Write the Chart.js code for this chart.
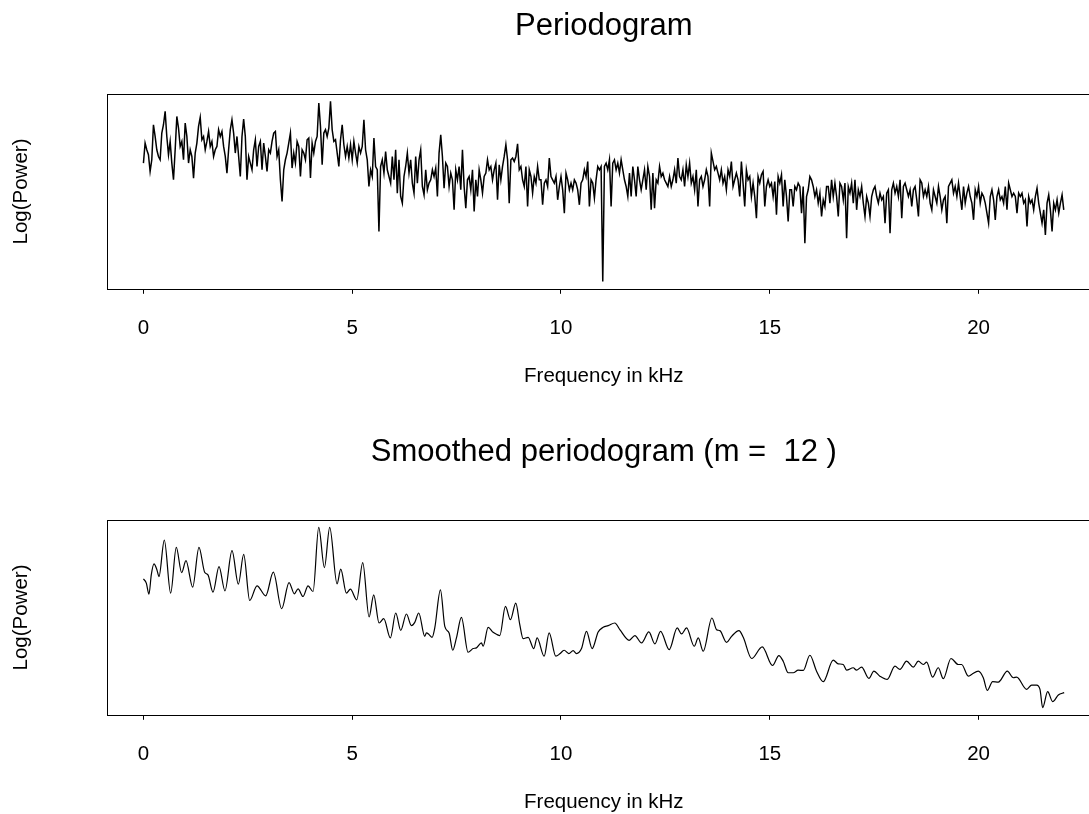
<!DOCTYPE html>
<html>
<head>
<meta charset="utf-8">
<title>Periodogram</title>
<script src="https://cdn.jsdelivr.net/npm/chart.js@4.4.1/dist/chart.umd.min.js"></script>
<style>
  html, body { margin: 0; padding: 0; background: #fff; overflow: hidden; }
  #page { position: relative; width: 1089px; height: 814px; overflow: hidden; }
  .panel { position: absolute; left: 0; width: 1208px; height: 426px; }
</style>
</head>
<body>
<div id="page">
  <div class="panel" style="top:0"><canvas id="raw_chart"></canvas></div>
  <div class="panel" style="top:426px"><canvas id="smooth_chart"></canvas></div>
</div>
<script>
// x axis: frequency in kHz (Nyquist of a 44.1 kHz recording)
const nyquistKHz = 22.05;
const xTickValues = [0, 5, 10, 15, 20];

// raw periodogram, one value every 0.04 kHz
const rawFreqKHz = [
  0.00,0.04,0.08,0.12,0.16,0.20,0.24,0.28,0.32,0.36,0.40,0.44,0.48,0.52,0.56,0.60,0.64,0.68,0.72,0.76,0.80,0.84,0.88,0.92,0.96,
  1.00,1.04,1.08,1.12,1.16,1.20,1.24,1.28,1.32,1.36,1.40,1.44,1.48,1.52,1.56,1.60,1.64,1.68,1.72,1.76,1.80,1.84,1.88,1.92,1.96,
  2.00,2.04,2.08,2.12,2.16,2.20,2.24,2.28,2.32,2.36,2.40,2.44,2.48,2.52,2.56,2.60,2.64,2.68,2.72,2.76,2.80,2.84,2.88,2.92,2.96,
  3.00,3.04,3.08,3.12,3.16,3.20,3.24,3.28,3.32,3.36,3.40,3.44,3.48,3.52,3.56,3.60,3.64,3.68,3.72,3.76,3.80,3.84,3.88,3.92,3.96,
  4.00,4.04,4.08,4.12,4.16,4.20,4.24,4.28,4.32,4.36,4.40,4.44,4.48,4.52,4.56,4.60,4.64,4.68,4.72,4.76,4.80,4.84,4.88,4.92,4.96,
  5.00,5.04,5.08,5.12,5.16,5.20,5.24,5.28,5.32,5.36,5.40,5.44,5.48,5.52,5.56,5.60,5.64,5.68,5.72,5.76,5.80,5.84,5.88,5.92,5.96,
  6.00,6.04,6.08,6.12,6.16,6.20,6.24,6.28,6.32,6.36,6.40,6.44,6.48,6.52,6.56,6.60,6.64,6.68,6.72,6.76,6.80,6.84,6.88,6.92,6.96,
  7.00,7.04,7.08,7.12,7.16,7.20,7.24,7.28,7.32,7.36,7.40,7.44,7.48,7.52,7.56,7.60,7.64,7.68,7.72,7.76,7.80,7.84,7.88,7.92,7.96,
  8.00,8.04,8.08,8.12,8.16,8.20,8.24,8.28,8.32,8.36,8.40,8.44,8.48,8.52,8.56,8.60,8.64,8.68,8.72,8.76,8.80,8.84,8.88,8.92,8.96,
  9.00,9.04,9.08,9.12,9.16,9.20,9.24,9.28,9.32,9.36,9.40,9.44,9.48,9.52,9.56,9.60,9.64,9.68,9.72,9.76,9.80,9.84,9.88,9.92,9.96,
  10.00,10.04,10.08,10.12,10.16,10.20,10.24,10.28,10.32,10.36,10.40,10.44,10.48,10.52,10.56,10.60,10.64,10.68,10.72,10.76,10.80,10.84,10.88,10.92,10.96,
  11.00,11.04,11.08,11.12,11.16,11.20,11.24,11.28,11.32,11.36,11.40,11.44,11.48,11.52,11.56,11.60,11.64,11.68,11.72,11.76,11.80,11.84,11.88,11.92,11.96,
  12.00,12.04,12.08,12.12,12.16,12.20,12.24,12.28,12.32,12.36,12.40,12.44,12.48,12.52,12.56,12.60,12.64,12.68,12.72,12.76,12.80,12.84,12.88,12.92,12.96,
  13.00,13.04,13.08,13.12,13.16,13.20,13.24,13.28,13.32,13.36,13.40,13.44,13.48,13.52,13.56,13.60,13.64,13.68,13.72,13.76,13.80,13.84,13.88,13.92,13.96,
  14.00,14.04,14.08,14.12,14.16,14.20,14.24,14.28,14.32,14.36,14.40,14.44,14.48,14.52,14.56,14.60,14.64,14.68,14.72,14.76,14.80,14.84,14.88,14.92,14.96,
  15.00,15.04,15.08,15.12,15.16,15.20,15.24,15.28,15.32,15.36,15.40,15.44,15.48,15.52,15.56,15.60,15.64,15.68,15.72,15.76,15.80,15.84,15.88,15.92,15.96,
  16.00,16.04,16.08,16.12,16.16,16.20,16.24,16.28,16.32,16.36,16.40,16.44,16.48,16.52,16.56,16.60,16.64,16.68,16.72,16.76,16.80,16.84,16.88,16.92,16.96,
  17.00,17.04,17.08,17.12,17.16,17.20,17.24,17.28,17.32,17.36,17.40,17.44,17.48,17.52,17.56,17.60,17.64,17.68,17.72,17.76,17.80,17.84,17.88,17.92,17.96,
  18.00,18.04,18.08,18.12,18.16,18.20,18.24,18.28,18.32,18.36,18.40,18.44,18.48,18.52,18.56,18.60,18.64,18.68,18.72,18.76,18.80,18.84,18.88,18.92,18.96,
  19.00,19.04,19.08,19.12,19.16,19.20,19.24,19.28,19.32,19.36,19.40,19.44,19.48,19.52,19.56,19.60,19.64,19.68,19.72,19.76,19.80,19.84,19.88,19.92,19.96,
  20.00,20.04,20.08,20.12,20.16,20.20,20.24,20.28,20.32,20.36,20.40,20.44,20.48,20.52,20.56,20.60,20.64,20.68,20.72,20.76,20.80,20.84,20.88,20.92,20.96,
  21.00,21.04,21.08,21.12,21.16,21.20,21.24,21.28,21.32,21.36,21.40,21.44,21.48,21.52,21.56,21.60,21.64,21.68,21.72,21.76,21.80,21.84,21.88,21.92,21.96,
  22.00,22.04
];
const rawLogPower = [
  13.67,15.67,15.0,14.5,12.83,14.0,17.5,16.33,15.0,14.33,14.0,16.67,17.5,18.83,16.33,14.5,15.83,13.67,12.0,15.0,18.33,17.17,15.33,15.83,14.0,
  17.67,16.33,13.67,15.0,14.33,12.17,14.67,15.67,17.33,18.23,16.0,16.33,15.0,15.83,16.83,15.33,15.83,14.33,15.0,15.33,17.0,16.33,16.83,15.33,14.33,
  12.67,15.0,17.0,18.0,16.67,14.67,16.33,14.33,12.33,16.33,18.07,16.33,12.0,14.33,13.67,13.0,15.0,16.0,13.33,15.33,15.83,13.0,15.67,14.33,12.83,
  15.0,14.67,15.83,16.67,16.83,14.33,15.0,12.0,9.83,13.0,14.0,14.67,15.67,16.67,13.17,14.67,13.67,15.83,15.33,12.33,15.0,14.67,14.0,16.0,16.17,
  12.17,15.67,14.67,15.83,16.33,19.67,17.33,13.5,16.67,17.0,16.33,17.17,19.83,17.0,15.83,16.0,14.67,13.33,16.0,17.5,15.5,14.33,15.33,14.17,15.5,
  14.0,15.83,14.67,13.67,15.33,14.67,15.33,18.0,15.0,14.0,11.33,13.0,12.33,16.17,13.33,13.0,6.83,13.33,14.0,12.67,14.83,13.0,12.33,11.67,14.33,
  12.0,15.0,10.67,14.0,10.33,9.67,12.33,13.33,14.67,12.67,14.0,11.67,10.67,14.33,11.67,14.0,15.0,11.33,10.5,13.0,11.0,11.67,12.0,13.0,12.33,
  13.17,10.33,14.67,16.5,14.33,11.17,13.67,13.33,11.33,12.67,12.0,9.0,13.0,12.0,13.33,11.0,15.0,11.33,9.17,12.0,12.33,11.0,13.0,8.83,12.0,
  10.33,13.0,12.0,10.67,12.33,12.67,14.0,13.0,13.33,12.0,13.0,13.67,10.0,13.5,12.0,13.33,14.33,15.5,14.0,9.67,14.0,14.17,13.83,14.33,15.6,
  13.0,13.33,12.0,11.33,13.33,9.33,13.0,12.33,10.67,12.33,11.67,13.33,12.0,12.0,9.5,11.67,12.0,11.33,14.17,12.33,12.0,11.67,12.33,10.0,11.33,
  12.33,11.0,8.67,12.67,12.0,11.0,11.67,11.0,12.0,11.67,11.0,9.5,11.67,12.0,13.0,12.33,13.83,9.33,12.0,11.67,10.17,12.0,13.33,13.0,13.33,
  1.83,13.33,13.67,13.0,14.0,9.33,13.67,14.0,13.0,13.67,12.67,14.0,13.0,12.0,11.33,10.33,12.67,10.33,13.33,12.0,10.33,13.33,12.0,11.0,12.0,
  13.0,11.0,13.33,12.33,9.0,12.67,9.17,12.0,11.67,13.33,12.33,12.67,12.0,11.67,11.33,12.33,11.33,12.0,13.0,11.67,14.17,12.33,12.0,13.0,11.33,
  13.5,12.33,13.67,11.67,12.33,11.0,13.0,9.33,12.0,12.33,11.33,12.0,13.0,12.33,9.33,14.67,13.83,13.0,13.33,12.67,12.0,13.0,11.67,12.33,11.0,
  13.0,12.33,13.83,11.33,12.0,12.67,12.0,10.33,13.83,11.67,9.33,13.0,12.0,12.33,10.33,11.67,10.33,8.17,12.33,11.67,12.5,12.83,9.33,11.33,12.0,
  11.33,11.67,10.33,11.83,8.5,12.33,11.67,12.5,9.33,12.0,10.33,7.83,11.0,11.0,9.33,11.33,11.0,11.67,11.33,8.67,11.33,5.67,10.33,11.0,12.33,
  12.0,11.33,10.33,11.0,9.67,10.67,8.33,10.0,9.33,11.33,11.33,9.67,12.0,10.33,11.67,10.33,8.33,11.67,11.33,10.0,11.67,6.17,11.33,10.67,11.67,
  9.67,12.0,9.0,11.0,10.33,11.33,9.67,8.33,10.33,9.67,8.33,10.33,11.0,11.33,10.33,9.67,10.67,10.0,10.33,7.67,10.67,11.0,6.67,11.0,11.67,
  10.67,11.33,10.33,12.0,8.17,11.33,11.67,11.0,10.33,11.0,9.33,11.0,11.33,10.0,8.33,12.0,11.67,10.33,11.0,10.33,11.33,9.67,9.0,11.0,10.33,
  9.67,11.33,10.33,9.0,10.0,10.33,7.67,11.33,11.67,12.0,10.67,11.33,10.33,11.67,10.33,9.0,11.33,9.67,10.67,11.33,10.33,9.67,8.0,11.0,10.33,
  11.33,9.67,10.67,10.33,9.67,8.67,7.67,10.33,11.0,10.0,8.0,10.33,11.0,10.0,10.33,9.67,11.33,9.0,11.67,11.0,10.33,10.67,10.33,8.67,10.67,
  10.33,10.67,9.67,10.0,7.33,10.33,9.67,10.0,9.0,10.33,11.17,9.67,8.67,7.67,9.0,6.5,9.67,10.5,9.0,6.83,9.67,9.0,10.0,8.67,9.67,
  10.5,9.0
];

// smoothed periodogram (m = 12), turning points
const smoothFreqKHz = [
  0, 0.069, 0.133, 0.188, 0.252, 0.324, 0.372, 0.500, 0.652, 0.787,
  0.915, 1.019, 1.179, 1.330, 1.466, 1.546, 1.666, 1.810, 1.953, 2.121,
  2.273, 2.401, 2.545, 2.720, 2.928, 3.111, 3.311, 3.487, 3.615, 3.703,
  3.822, 3.942, 4.062, 4.198, 4.334, 4.461, 4.637, 4.725, 4.861, 4.956,
  5.108, 5.252, 5.404, 5.515, 5.643, 5.755, 5.914, 6.042, 6.162, 6.298,
  6.418, 6.498, 6.593, 6.737,
  6.777, 6.841, 6.913, 6.977, 7.113, 7.217, 7.320, 7.408, 7.496, 7.615,
  7.775, 7.895, 7.975, 8.095, 8.135, 8.255, 8.374, 8.470, 8.534, 8.669,
  8.789, 8.917, 9.013, 9.093, 9.213, 9.349, 9.428, 9.596, 9.716, 9.876,
  9.972, 10.075, 10.187, 10.291, 10.371, 10.491, 10.610, 10.746, 10.890, 11.010,
  11.130, 11.289, 11.409, 11.633, 11.769, 11.929, 12.104, 12.248, 12.384, 12.592,
  12.783, 12.887, 13.007, 13.191, 13.287, 13.406, 13.614, 13.726, 13.806, 13.966,
  14.085, 14.261, 14.365, 14.565,
  14.819, 15.066, 15.218, 15.321, 15.441, 15.561, 15.681, 15.801, 15.960, 16.120,
  16.280, 16.519, 16.639, 16.759, 16.839, 16.998, 17.078, 17.198, 17.374, 17.494,
  17.637, 17.813, 17.997, 18.117, 18.276, 18.436, 18.556, 18.676, 18.756, 18.899,
  19.035, 19.155, 19.339, 19.514, 19.594, 19.754, 19.834, 19.994, 20.113, 20.209,
  20.337, 20.473, 20.689, 20.832, 20.912, 21.152, 21.271, 21.391, 21.471, 21.535,
  21.655, 21.775, 21.910, 22.05
];
const smoothLogPower = [
  14.70, 14.27, 13.17, 15.10, 16.20, 15.60, 14.93, 18.60, 13.27, 17.87,
  15.33, 16.53, 13.87, 17.87, 15.37, 15.10, 13.37, 15.93, 13.50, 17.53,
  14.17, 17.17, 12.53, 14.00, 13.00, 15.37, 11.70, 14.33, 13.20, 13.70,
  12.93, 14.00, 13.43, 19.87, 15.83, 19.87, 14.20, 15.67, 13.27, 13.67,
  12.60, 16.33, 10.87, 13.10, 10.27, 10.70, 8.77, 11.27, 9.53, 11.17,
  10.00, 10.33, 11.27, 8.93,
  9.27, 9.10, 8.83, 9.77, 13.60, 9.93, 9.27, 7.53, 8.77, 10.83,
  7.33, 7.70, 7.77, 8.27, 7.93, 9.83, 9.33, 9.10, 9.00, 11.93,
  10.60, 12.27, 10.10, 8.70, 8.83, 7.70, 8.77, 6.93, 9.27, 6.93,
  7.17, 7.53, 7.20, 7.50, 7.20, 7.70, 9.43, 7.70, 9.37, 9.83,
  10.00, 10.27, 9.60, 8.53, 9.00, 8.27, 9.37, 8.17, 9.43, 7.60,
  9.77, 9.17, 9.77, 7.93, 8.77, 7.43, 10.77, 9.60, 9.50, 8.33,
  8.93, 9.50, 8.83, 6.70,
  7.87, 6.00, 7.00, 6.43, 5.27, 5.27, 5.53, 5.50, 7.03, 5.43,
  4.37, 6.53, 6.17, 6.10, 5.53, 5.77, 5.53, 5.83, 4.70, 5.43,
  4.93, 4.60, 5.93, 5.60, 6.43, 5.83, 6.43, 6.10, 6.33, 4.83,
  5.77, 4.67, 6.70, 6.10, 6.10, 4.93, 5.10, 5.43, 4.77, 3.50,
  4.37, 4.33, 5.43, 4.77, 4.83, 3.60, 4.03, 4.03, 3.60, 1.77,
  3.37, 2.37, 3.03, 3.27
];

const FONT = "'Liberation Sans', Arial, Helvetica, sans-serif";

// box round the plot region, like R's box()
const framePlugin = {
  id: "frame",
  afterDatasetsDraw(chart) {
    const { ctx, chartArea } = chart;
    ctx.save();
    ctx.strokeStyle = "#000";
    ctx.lineWidth = 1;
    ctx.strokeRect(Math.round(chartArea.left) + 0.5, Math.round(chartArea.top) + 0.5,
      Math.round(chartArea.right - chartArea.left), Math.round(chartArea.bottom - chartArea.top));
    ctx.restore();
  }
};

function buildChart(canvasId, titleText, freqs, power, smooth) {
  // R style axis limits: data range stretched by 4% on each side
  const xPad = nyquistKHz * 0.04;
  const lo = Math.min(...power);
  const hi = Math.max(...power);
  const yPad = (hi - lo) * 0.04;

  const ctx = document.getElementById(canvasId).getContext("2d");
  return new Chart(ctx, {
    type: "line",
    data: {
      datasets: [
        {
          data: freqs.map((f, i) => ({ x: f, y: power[i] })),
          borderColor: "#000",
          borderWidth: smooth ? 1.2 : 1.5,
          pointRadius: 0,
          fill: false,
          tension: smooth ? 0.4 : 0,
          cubicInterpolationMode: smooth ? "monotone" : "default",
        },
      ],
    },
    options: {
      responsive: true,
      maintainAspectRatio: false,
      animation: false,
      devicePixelRatio: 1,
      layout: { padding: { left: 0, right: 107, top: 0, bottom: 37 } },
      plugins: {
        legend: { display: false },
        tooltip: { enabled: false },
        title: {
          display: true,
          fullSize: false,
          text: titleText,
          color: "#000",
          font: { family: FONT, size: 31, weight: "normal", lineHeight: 1.2 },
          padding: { top: 8, bottom: 49 },
        },
      },
      scales: {
        x: {
          type: "linear",
          min: 0 - xPad,
          max: nyquistKHz + xPad,
          afterBuildTicks: (scale) => {
            scale.ticks = xTickValues.map((v) => ({ value: v }));
          },
          grid: { display: true, drawOnChartArea: false, drawTicks: true, tickLength: 5, color: "#000", lineWidth: 1 },
          border: { display: false },
          ticks: { color: "#000", padding: 22, maxRotation: 0, font: { family: FONT, size: 20.5, lineHeight: 1.2 } },
          title: {
            display: true,
            text: "Frequency in kHz",
            color: "#000",
            font: { family: FONT, size: 20.5, lineHeight: 1.2 },
            padding: { top: 2, bottom: 0 },
          },
        },
        y: {
          type: "linear",
          min: lo - yPad,
          max: hi + yPad,
          grid: { display: false },
          border: { display: false },
          ticks: { display: false },
          title: {
            display: true,
            text: "Log(Power)",
            color: "#000",
            font: { family: FONT, size: 20.5, lineHeight: 1.2 },
            padding: { top: 9, bottom: 65 },
          },
        },
      },
    },
    plugins: [framePlugin],
  });
}

buildChart("raw_chart", "Periodogram", rawFreqKHz, rawLogPower, false);
buildChart("smooth_chart", "Smoothed periodogram (m =  12 )", smoothFreqKHz, smoothLogPower, true);
</script>
</body>
</html>
